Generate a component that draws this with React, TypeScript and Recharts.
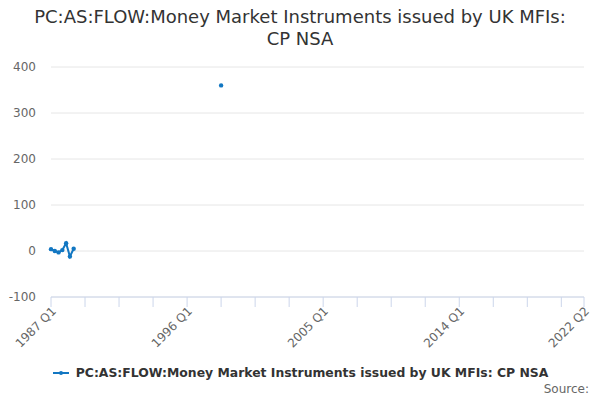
import { LineChart, Line, XAxis, YAxis, CartesianGrid } from 'recharts';

const FONT = '"DejaVu Sans", sans-serif';
const BLUE = '#1277c2';

const TITLE = 'PC:AS:FLOW:Money Market Instruments issued by UK MFIs: CP NSA';

// first and last quarter on the axis
const START_YEAR = 1987;
const END_LABEL = '2022 Q2';

// observed quarters and their values
const pointQuarters = ['1987 Q1', '1987 Q2', '1987 Q3', '1987 Q4', '1988 Q1', '1988 Q2', '1988 Q3', '1998 Q2'];
const pointValues = [4, 0, -3, 2, 17, -12, 5, 360];

const labelTicks = ['1987 Q1', '1996 Q1', '2005 Q1', '2014 Q1', '2022 Q2'];
const yTicks = [-100, 0, 100, 200, 300, 400];

const quarterIndex = (label: string) => {
  const [y, q] = label.split(' Q');
  return (Number(y) - START_YEAR) * 4 + Number(q) - 1;
};

const lastIndex = quarterIndex(END_LABEL);

const data = Array.from({ length: lastIndex + 1 }, (_, i) => {
  const label = `${START_YEAR + Math.floor(i / 4)} Q${(i % 4) + 1}`;
  const k = pointQuarters.indexOf(label);
  return { x: i, label, value: k >= 0 ? pointValues[k] : null };
});

// minor ticks every 9 quarters, plus the final quarter
const xTicks = [...data.filter((d) => d.x % 9 === 0).map((d) => d.x), lastIndex];

const XTick = (props: any) => {
  const { x, y, payload } = props;
  const label = data[payload.value]?.label;
  if (!labelTicks.includes(label)) return null;
  return (
    <g transform={`translate(${x + 3},${y})`}>
      <text
        textAnchor="end"
        transform="rotate(-45)"
        fontSize={12}
        fill="#666"
        fontFamily={FONT}
        dy={4}
      >
        {label}
      </text>
    </g>
  );
};

export default function App() {
  return (
    <div style={{ position: 'absolute', left: 0, top: 0, width: 600, height: 400, fontFamily: FONT, background: '#fff' }}>
      <div
        style={{
          position: 'absolute',
          top: 6,
          left: 10,
          width: 580,
          textAlign: 'center',
          fontSize: 18,
          lineHeight: '22px',
          color: '#333',
        }}
      >
        {TITLE.replace(' CP NSA', '')}
        <br />
        CP NSA
      </div>

      <LineChart
        width={600}
        height={400}
        data={data}
        margin={{ top: 67, right: 16, bottom: 43, left: 6 }}
      >
        <CartesianGrid vertical={false} stroke="#e6e6e6" />
        <XAxis
          dataKey="x"
          type="number"
          domain={[0, lastIndex]}
          ticks={xTicks}
          interval={0}
          height={60}
          tickSize={10}
          stroke="#ccd6eb"
          tick={<XTick />}
        />
        <YAxis
          domain={[-100, 400]}
          ticks={yTicks}
          width={45}
          axisLine={false}
          tickLine={false}
          tickSize={0}
          tickMargin={15}
          tick={{ fontSize: 12, fill: '#666', fontFamily: FONT }}
        />
        <Line
          dataKey="value"
          stroke={BLUE}
          strokeWidth={2}
          dot={{ r: 2.2, fill: BLUE, stroke: BLUE, strokeWidth: 0 }}
          isAnimationActive={false}
        />
      </LineChart>

      <div
        style={{
          position: 'absolute',
          top: 365,
          left: 0,
          width: 600,
          display: 'flex',
          justifyContent: 'center',
          alignItems: 'center',
          fontSize: 12.4,
          fontWeight: 'bold',
          color: '#333',
        }}
      >
        <svg width={20} height={12} style={{ marginRight: 4 }}>
          <line x1={1} y1={6} x2={17} y2={6} stroke={BLUE} strokeWidth={2} />
          <circle cx={9} cy={6} r={2} fill={BLUE} />
        </svg>
        {TITLE}
      </div>

      <div style={{ position: 'absolute', top: 382, right: 11, fontSize: 12, color: '#666' }}>Source:</div>
    </div>
  );
}
